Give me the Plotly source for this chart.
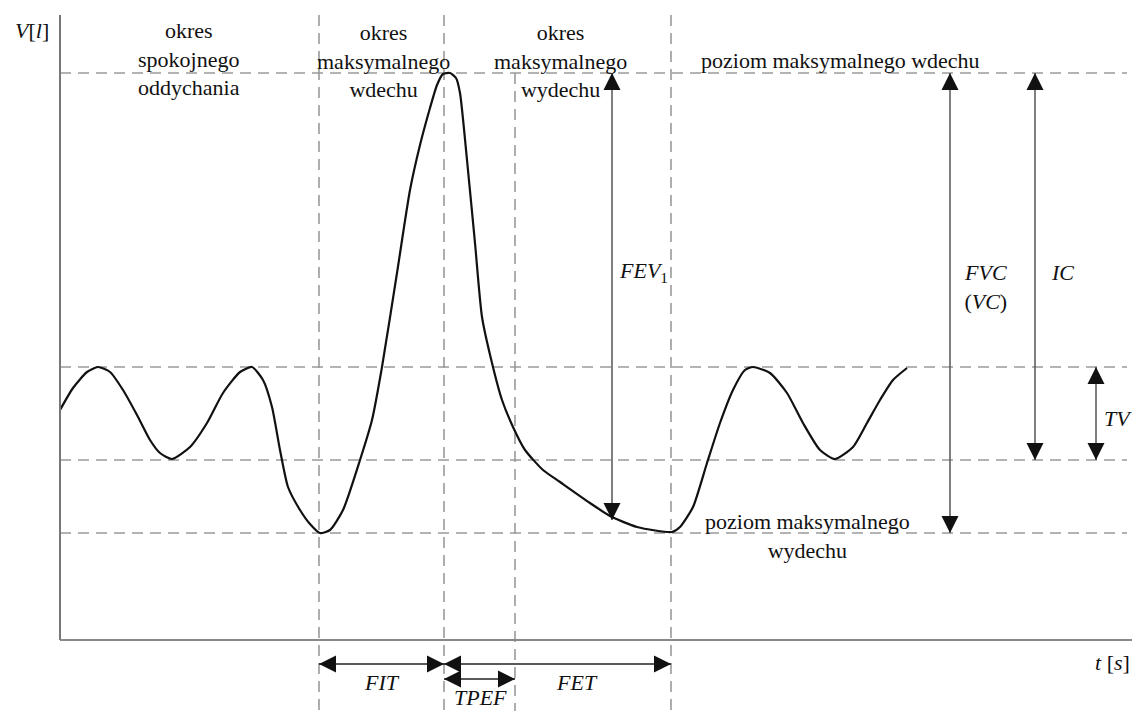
import plotly.graph_objects as go

# ---- data (t in s, V in l; schematic units) ----
curve_t = [0, 1.3, 2.7, 3.8, 5.0, 6.3, 7.7, 9.0, 10.0, 11.2, 13.0, 14.7, 16.3, 18.0, 19.2, 20.3,
           21.2, 22.0, 22.8, 24.0, 25.0, 26.0, 27.0, 28.3, 30.0, 31.2, 32.2, 33.7, 35.0, 36.0, 37.0,
           37.7, 38.3, 39.0, 39.6, 40.0, 40.7, 41.5, 42.2, 43.2, 44.2, 45.3, 46.5, 48.3, 50.0, 53.0,
           55.0, 57.7, 61.2, 62.0, 63.3, 64.7, 66.0, 67.3, 68.5, 69.3, 71.0, 72.7, 74.3, 76.0, 77.5,
           79.3, 80.7, 82.0, 83.3, 84.7]
curve_v = [2.30, 2.52, 2.68, 2.73, 2.68, 2.50, 2.25, 2.00, 1.87, 1.81, 1.93, 2.17, 2.47, 2.68, 2.73, 2.60,
           2.33, 1.90, 1.53, 1.30, 1.16, 1.07, 1.10, 1.30, 1.80, 2.20, 2.73, 3.67, 4.50, 4.95, 5.32,
           5.55, 5.66, 5.67, 5.62, 5.47, 4.80, 3.97, 3.23, 2.77, 2.40, 2.13, 1.90, 1.70, 1.58, 1.37,
           1.24, 1.13, 1.08, 1.13, 1.33, 1.77, 2.17, 2.50, 2.70, 2.73, 2.67, 2.47, 2.17, 1.90, 1.81,
           1.93, 2.17, 2.40, 2.60, 2.72]

# horizontal levels: max inspiration, tidal top, tidal bottom, max expiration
levels = [5.67, 2.73, 1.80, 1.07]
# vertical time markers and where each dashed line starts (top)
t_marks = [25.9, 38.4, 45.5, 61.1]
t_mark_tops = [6.25, 6.25, 5.67, 6.25]

# vertical arrows: (t, V_top, V_bottom)
v_arrows = {"FEV": (55.2, 5.67, 1.20), "FVC": (89.0, 5.67, 1.07),
            "IC": (97.5, 5.67, 1.80), "TV": (103.6, 2.73, 1.80)}
# horizontal arrows: (V, t_start, t_end)
h_arrows = {"FIT": (-0.24, 25.9, 38.4), "FET": (-0.24, 38.4, 61.1), "TPEF": (-0.39, 38.4, 45.5)}

# text labels: (text, t, V)
labels = [
    ("okres<br>spokojnego<br>oddychania", 12.9, 5.81),
    ("okres<br>maksymalnego<br>wdechu", 32.3, 5.79),
    ("okres<br>maksymalnego<br>wydechu", 50.0, 5.79),
    ("poziom maksymalnego wdechu", 78.0, 5.80),
    ("poziom maksymalnego<br>wydechu", 74.7, 1.04),
    ("<i>FEV</i><sub>1</sub>", 58.3, 3.68),
    ("<i>FVC</i><br>(<i>VC</i>)", 92.5, 3.53),
    ("<i>IC</i>", 100.2, 3.68),
    ("<i>TV</i>", 105.8, 2.22),
    ("<i>FIT</i>", 32.2, -0.42),
    ("<i>FET</i>", 51.7, -0.42),
    ("<i>TPEF</i>", 42.0, -0.57),
    ("<i>V</i>[<i>l</i>]", -2.8, 6.10),
    ("<i>t</i> [<i>s</i>]", 105.2, -0.22),
]

FONT = "Liberation Serif"
DASH = dict(color="#9a9a9a", width=1.6, dash="11px,7px")
ARROW_LINE = dict(color="#555", width=1.5)
HEAD_SIZE = 17

fig = go.Figure()

shapes = []
# axes
shapes.append(dict(type="line", xref="x", yref="y", x0=0, x1=0, y0=0, y1=6.25,
                   line=dict(color="#777", width=2)))
shapes.append(dict(type="line", xref="x", yref="y", x0=0, x1=107.2, y0=0, y1=0,
                   line=dict(color="#888", width=2)))
# horizontal dashed levels
for lv in levels:
    shapes.append(dict(type="line", xref="x", yref="y", x0=0, x1=106.7, y0=lv, y1=lv,
                       line=DASH, layer="below"))
# vertical dashed markers
for tm, top in zip(t_marks, t_mark_tops):
    shapes.append(dict(type="line", xref="x", yref="y", x0=tm, x1=tm, y0=top, y1=-0.75,
                       line=DASH, layer="below"))

# arrows: shafts as lines, heads as arrow markers
head_x, head_y, head_sym = [], [], []
for name, (t, vt, vb) in v_arrows.items():
    fig.add_trace(go.Scatter(x=[t, t], y=[vt, vb], mode="lines", line=ARROW_LINE,
                             hoverinfo="skip", showlegend=False))
    head_x += [t, t]
    head_y += [vt, vb]
    head_sym += ["arrow-up", "arrow-down"]
for name, (v, ts, te) in h_arrows.items():
    fig.add_trace(go.Scatter(x=[ts, te], y=[v, v], mode="lines", line=dict(color="#222", width=1.5),
                             hoverinfo="skip", showlegend=False))
    head_x += [ts, te]
    head_y += [v, v]
    head_sym += ["arrow-left", "arrow-right"]
fig.add_trace(go.Scatter(x=head_x, y=head_y, mode="markers",
                         marker=dict(symbol=head_sym, size=HEAD_SIZE, color="#111",
                                     line=dict(width=0)),
                         hoverinfo="skip", showlegend=False))

# volume curve
fig.add_trace(go.Scatter(x=curve_t, y=curve_v, mode="lines",
                         line=dict(color="#111", width=2.2, shape="spline", smoothing=0.6),
                         hoverinfo="skip", showlegend=False))

annotations = []
for txt, t, v in labels:
    annotations.append(dict(x=t, y=v, xref="x", yref="y", text=txt, showarrow=False,
                            xanchor="center", yanchor="middle",
                            font=dict(family=FONT, size=22, color="#111")))

# page body has an 8px margin: figure is 1132x703 and ranges keep 10 px per unit
fig.update_layout(
    width=1132, height=703,
    margin=dict(l=0, r=0, t=0, b=0),
    paper_bgcolor="white", plot_bgcolor="white",
    xaxis=dict(range=[-5.2, 108.0], visible=False, fixedrange=True),
    yaxis=dict(range=[-0.71, 6.32], visible=False, fixedrange=True),
    shapes=shapes, annotations=annotations,
    showlegend=False,
)
fig.write_html("out.html")
